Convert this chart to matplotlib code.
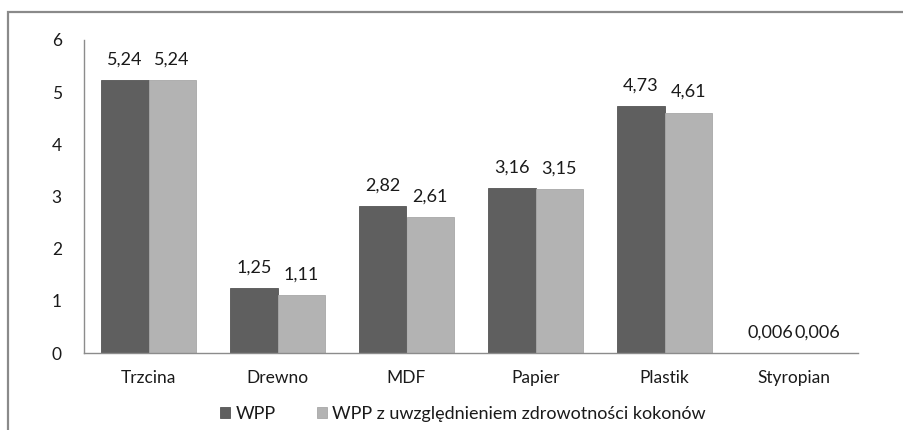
import matplotlib
matplotlib.use("Agg")
import matplotlib.pyplot as plt
from matplotlib.patches import Rectangle
import numpy as np

categories = ["Trzcina", "Drewno", "MDF", "Papier", "Plastik", "Styropian"]
wpp = [5.24, 1.25, 2.82, 3.16, 4.73, 0.006]
wpp_zdrow = [5.24, 1.11, 2.61, 3.15, 4.61, 0.006]
series_names = ["WPP", "WPP z uwzględnieniem zdrowotności kokonów"]
yticks = [0, 1, 2, 3, 4, 5, 6]

plt.rcParams["font.family"] = ["Lato", "DejaVu Sans"]

W, H = 904, 430
fig = plt.figure(figsize=(W / 100, H / 100), dpi=100)
ax = fig.add_axes([84 / W, 77 / H, (858 - 84) / W, (353 - 40) / H])

def fmt(v):
    s = f"{v:g}"
    return s.replace(".", ",")

x = np.arange(len(categories))
bw = 0.365
dark = "#5f5f5f"
light = "#b3b3b3"
b1 = ax.bar(x - bw / 2, wpp, bw, color=dark, edgecolor="#555555", linewidth=0.6, label=series_names[0])
b2 = ax.bar(x + bw / 2, wpp_zdrow, bw, color=light, edgecolor="#a8a8a8", linewidth=0.6, label=series_names[1])

txt = "#1a1a1a"
for bars, vals in ((b1, wpp), (b2, wpp_zdrow)):
    for r, v in zip(bars, vals):
        ax.annotate(fmt(v), (r.get_x() + r.get_width() / 2, v), xytext=(0, 9),
                    textcoords="offset points", ha="center", va="bottom",
                    fontsize=13, color=txt)

ax.set_xlim(-0.5, len(categories) - 0.5)
ax.set_ylim(0, 6)
ax.set_yticks(yticks)
ax.set_yticklabels([str(t) for t in yticks], fontsize=12.5, color=txt)
ax.set_xticks(x)
ax.set_xticklabels(categories, fontsize=12.5, color=txt)
ax.tick_params(axis="both", length=0)
ax.tick_params(axis="y", pad=16)
ax.tick_params(axis="x", pad=12)

for s in ("top", "right"):
    ax.spines[s].set_visible(False)
ax.spines["left"].set_color("#8c8c8c")
ax.spines["bottom"].set_color("#8c8c8c")
ax.spines["left"].set_linewidth(1.0)
ax.spines["bottom"].set_linewidth(1.0)

leg = fig.legend(loc="center", bbox_to_anchor=(463 / W, 1 - 414 / H), ncol=2, frameon=False,
                 fontsize=13, handlelength=0.55, handleheight=0.55, handletextpad=0.3,
                 columnspacing=2.3)
for t in leg.get_texts():
    t.set_color(txt)

# outer chart frame
frame = Rectangle((8 / W, -0.1), 1.2, 1 - 12 / H + 0.1, transform=fig.transFigure,
                  fill=False, edgecolor="#8a8a8a", linewidth=1.6)
fig.patches.append(frame)

fig.savefig("out.png", dpi=100)
